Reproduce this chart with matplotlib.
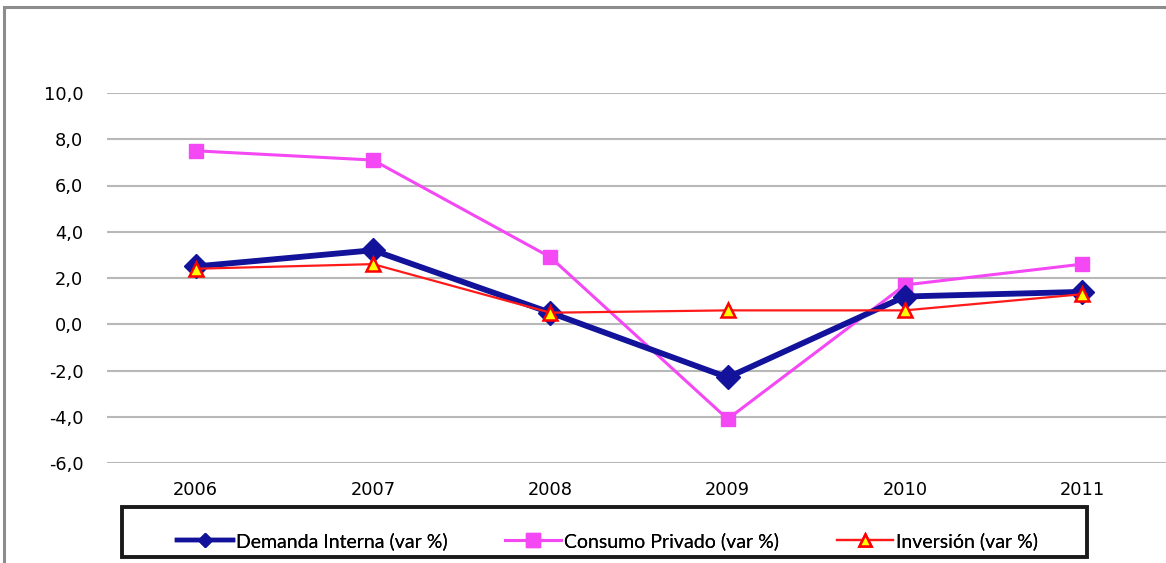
import matplotlib
matplotlib.use("Agg")
import matplotlib.pyplot as plt
from matplotlib.patches import Rectangle
from matplotlib.lines import Line2D
from matplotlib.ticker import FuncFormatter

years = ["2006", "2007", "2008", "2009", "2010", "2011"]
demanda_interna = [2.5, 3.2, 0.5, -2.3, 1.2, 1.4]
consumo_privado = [7.5, 7.1, 2.9, -4.1, 1.7, 2.6]
inversion = [2.4, 2.6, 0.5, 0.6, 0.6, 1.3]
y_ticks = [-6, -4, -2, 0, 2, 4, 6, 8, 10]
labels = ["Demanda Interna (var %)", "Consumo Privado (var %)", "Inversión (var %)"]

W, H = 1166, 563
fig = plt.figure(figsize=(W / 100, H / 100), dpi=100)
fig.patch.set_facecolor("white")

# outer chart frame (runs off the right and bottom edges)
fig.patches.append(Rectangle((4 / W, -0.05), 1.2, 1 - 7 / H + 0.05,
                             transform=fig.transFigure, fill=False,
                             edgecolor="#8c8c8c", linewidth=2.2, zorder=0))

ax = fig.add_axes([107 / W, 1 - 463 / H, 1064 / W, 370 / H])
x = list(range(len(years)))

styles = [
    dict(color="#12129a", linewidth=4.2, marker="D", markersize=12,
         markerfacecolor="#12129a", markeredgecolor="#12129a"),
    dict(color="#f448f4", linewidth=2.2, marker="s", markersize=10,
         markerfacecolor="#f448f4", markeredgecolor="#f448f4"),
    dict(color="#ff1a1a", linewidth=1.6, marker="^", markersize=10,
         markerfacecolor="#ffff00", markeredgecolor="#ff0000", markeredgewidth=1.8),
]
series = [demanda_interna, consumo_privado, inversion]
zorders = [4, 3, 5]
for vals, st, lab, z in zip(series, styles, labels, zorders):
    ax.plot(x, vals, label=lab, zorder=z, **st)

ax.set_xlim(-0.5, len(years) - 0.5)
ax.set_ylim(-6, 10)
ax.set_yticks(y_ticks)
ax.yaxis.set_major_formatter(FuncFormatter(lambda v, p: f"{v:.1f}".replace(".", ",")))
ax.set_xticks(x)
ax.set_xticklabels(years)
ax.grid(axis="y", color="#b8b8b8", linewidth=1.5)
ax.set_axisbelow(True)
for s in ax.spines.values():
    s.set_visible(False)
ax.tick_params(axis="both", length=0, labelsize=12.8, colors="black")
ax.tick_params(axis="x", pad=13)
ax.tick_params(axis="y", pad=17)

# legend box
fig.patches.append(Rectangle((122 / W, 1 - 557 / H), (1087 - 122) / W, 50 / H,
                             transform=fig.transFigure, fill=False,
                             edgecolor="#1a1a1a", linewidth=2.8, zorder=1))

legend_x = [177, 505, 837]
legend_ms = [7, 10, 8]
for lx, st, lab, ms in zip(legend_x, styles, labels, legend_ms):
    st2 = dict(st)
    st2["markersize"] = ms
    st2["linewidth"] = min(st["linewidth"], 3.2)
    handle = Line2D([], [], **st2)
    lg = fig.legend([handle], [lab], loc="center left",
                    bbox_to_anchor=(lx / W, 1 - 541 / H),
                    bbox_transform=fig.transFigure, frameon=False,
                    borderaxespad=0, borderpad=0, handlelength=2.9,
                    handletextpad=0.15,
                    prop={"family": ["Lato", "DejaVu Sans"], "size": 14})
    fig.add_artist(lg)

fig.savefig("out.png", dpi=100)
